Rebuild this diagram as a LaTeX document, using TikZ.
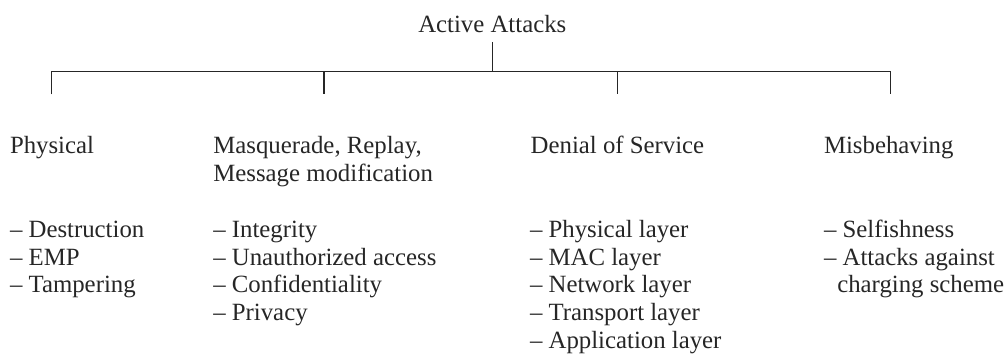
\documentclass[tikz,border=0pt]{standalone}
\usepackage{fontspec}
\setmainfont{Liberation Serif}
% stacked lines whose baseline is that of the first line
\newcommand{\stackl}[1]{\begin{tabular}[t]{@{}l@{}}#1\end{tabular}}
\begin{document}
\begin{tikzpicture}[x=1pt,y=-1pt,
  ink/.style={black!85},
  txt/.style={ink, inner sep=0pt, outer sep=0pt, anchor=base west,
    font=\fontsize{24.8}{27.7}\selectfont},
  wire/.style={ink, line width=1.3pt}]
\useasboundingbox (0,0) rectangle (1008,354);

% root
\node[txt, anchor=base, inner ysep=9.7pt] (root) at (492.3,32) {Active Attacks};

% categories
\node[txt] (phys) at (10,153.3)    {Physical};
\node[txt] (masq) at (213.3,153.3) {\stackl{Masquerade, Replay,\\Message modification}};
\node[txt] (dos)  at (530.7,153.3) {Denial of Service};
\node[txt] (misb) at (824,153.3)   {Misbehaving};

% item lists
\node[txt] (physl) at (10,237.3)    {\stackl{– Destruction\\– EMP\\– Tampering}};
\node[txt] (masql) at (213.3,237.3) {\stackl{– Integrity\\– Unauthorized access\\– Confidentiality\\– Privacy}};
\node[txt] (dosl)  at (530,237.3)   {\stackl{– Physical layer\\– MAC layer\\– Network layer\\– Transport layer\\– Application layer}};
\node[txt] (misbl) at (824,237.3)   {\stackl{– Selfishness\\– Attacks against\\\hspace*{13.3pt}charging scheme}};

% tree connectors
\coordinate (hub) at (492.3,71.7);
\coordinate (b1) at (51.7,71.7);  \coordinate (e1) at (51.7,94.3);
\coordinate (b2) at (324,71.7);   \coordinate (e2) at (324,94.3);
\coordinate (b3) at (617.3,71.7); \coordinate (e3) at (617.3,94.3);
\coordinate (b4) at (890.7,71.7); \coordinate (e4) at (890.7,94.3);

\draw[wire] (root.south) -- (hub);
\draw[wire] (e1) -- (b1) -- (b4) -- (e4);
\draw[wire] (b2) -- (e2);
\draw[wire] (b3) -- (e3);
\end{tikzpicture}
\end{document}
